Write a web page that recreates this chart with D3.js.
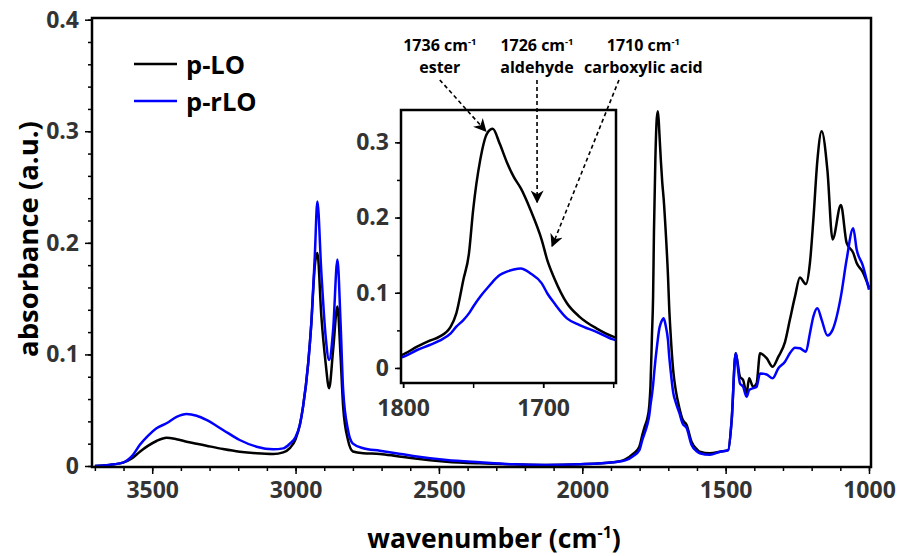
<!DOCTYPE html>
<html>
  <head>
    <meta charset="utf-8" />
    <title>FTIR p-LO / p-rLO</title>
    <style>
      body {
        margin: 0;
        background: #fff;
      }
      text {
        font-family: "Open Sans", sans-serif;
        font-weight: 700;
      }
    </style>
    <script src="https://d3js.org/d3.v7.min.js"></script>
  </head>
  <body>
    <div id="chart"></div>
    <script>
      // wavenumber (cm-1) shared by both spectra
      var wavenumbers = [3700, 3650, 3602, 3570, 3543, 3515, 3485, 3450, 3415, 3380, 3345, 3311, 3253, 3195, 3136, 3078, 3043, 3020, 3000, 2985, 2974, 2956, 2945, 2933, 2924, 2910, 2895, 2883, 2869, 2854, 2843, 2834, 2817, 2800, 2764, 2706, 2650, 2590, 2473, 2357, 2241, 2125, 2008, 1892, 1850, 1822, 1801, 1790, 1781, 1774, 1766, 1762, 1757, 1753, 1750, 1745, 1740, 1736, 1731, 1726, 1721, 1716, 1709, 1701, 1697, 1692, 1683, 1674, 1662, 1650, 1636, 1619, 1600, 1590, 1555, 1520, 1491, 1479, 1465, 1450, 1439, 1427, 1418, 1404, 1392, 1380, 1357, 1336, 1316, 1293, 1276, 1258, 1241, 1220, 1206, 1194, 1180, 1165, 1145, 1127, 1098, 1078, 1055, 1043, 1022, 1000];
      var pLO = [0.000, 0.001, 0.003, 0.007, 0.0128, 0.018, 0.0224, 0.0254, 0.024, 0.0218, 0.020, 0.0182, 0.0152, 0.0128, 0.0114, 0.0108, 0.0122, 0.016, 0.024, 0.037, 0.053, 0.092, 0.128, 0.179, 0.191, 0.134, 0.092, 0.0697, 0.104, 0.143, 0.098, 0.053, 0.023, 0.013, 0.0114, 0.0108, 0.009, 0.0069, 0.0039, 0.0024, 0.0015, 0.0009, 0.0015, 0.0033, 0.006, 0.011, 0.0173, 0.0283, 0.0363, 0.0416, 0.0549, 0.0726, 0.117, 0.152, 0.21, 0.276, 0.312, 0.318, 0.298, 0.274, 0.254, 0.239, 0.21, 0.17, 0.143, 0.119, 0.086, 0.068, 0.0527, 0.0416, 0.0368, 0.0218, 0.015, 0.0128, 0.0114, 0.0128, 0.0143, 0.041, 0.101, 0.080, 0.077, 0.065, 0.0786, 0.071, 0.074, 0.101, 0.0966, 0.089, 0.098, 0.111, 0.131, 0.152, 0.169, 0.163, 0.182, 0.221, 0.274, 0.300, 0.265, 0.203, 0.234, 0.200, 0.191, 0.182, 0.174, 0.160];
      var prLO = [0.000, 0.001, 0.003, 0.009, 0.019, 0.027, 0.0338, 0.0383, 0.044, 0.0466, 0.045, 0.0413, 0.0323, 0.0233, 0.0173, 0.015, 0.0158, 0.020, 0.026, 0.037, 0.053, 0.092, 0.128, 0.188, 0.237, 0.173, 0.116, 0.095, 0.122, 0.185, 0.128, 0.068, 0.032, 0.020, 0.0159, 0.0137, 0.0115, 0.009, 0.0054, 0.0033, 0.0015, 0.0009, 0.0015, 0.0033, 0.005, 0.009, 0.0142, 0.0239, 0.0305, 0.0363, 0.046, 0.0549, 0.0637, 0.0726, 0.0814, 0.0947, 0.106, 0.1146, 0.1235, 0.128, 0.131, 0.1324, 0.1257, 0.1125, 0.099, 0.086, 0.066, 0.057, 0.048, 0.038, 0.034, 0.019, 0.013, 0.0114, 0.010, 0.0128, 0.0143, 0.041, 0.101, 0.074, 0.071, 0.062, 0.068, 0.0697, 0.071, 0.083, 0.082, 0.0786, 0.0876, 0.0935, 0.101, 0.106, 0.1055, 0.1025, 0.119, 0.134, 0.1414, 0.131, 0.117, 0.122, 0.152, 0.185, 0.213, 0.194, 0.180, 0.158];

      var seriesNames = ["p-LO", "p-rLO"];
      var seriesColors = ["#000000", "#0000ff"];

      var xTicksMajor = [3500, 3000, 2500, 2000, 1500, 1000];
      var yTicksMajor = [0, 0.1, 0.2, 0.3, 0.4];
      var insetXTicks = [1800, 1700];
      var insetYTicks = [0, 0.1, 0.2, 0.3];

      // peak labels: text placed in main coords, arrow tip in inset coords
      var peakWn = ["1736", "1726", "1710"];
      var peakNames = ["ester", "aldehyde", "carboxylic acid"];
      var labelWn = [2497, 2158, 1787];
      var arrowStartWn = [2497, 2158, 1872];
      var arrowTipWn = [1741, 1704.3, 1693.6];
      var arrowTipAbs = [0.315, 0.2205, 0.162];

      var W = 898, H = 556;
      var svg = d3.select("#chart").append("svg").attr("width", W).attr("height", H);

      var x = d3.scaleLinear().domain([3710, 993]).range([92, 871]);
      var y = d3.scaleLinear().domain([-0.0009, 0.4015]).range([467, 18]);

      var spectra = [pLO, prLO].map(function (vals, k) {
        return { name: seriesNames[k], color: seriesColors[k], pts: wavenumbers.map(function (w, i) { return [w, vals[i]]; }) };
      });

      var tickColor = "#333";

      // main axes
      var xAxisMinor = d3.axisBottom(x).tickValues(d3.range(3700, 999, -100)).tickSize(4).tickFormat("");
      var xAxis = d3.axisBottom(x).tickValues(xTicksMajor).tickSize(7).tickPadding(8).tickFormat(d3.format("d"));
      var yAxisMinor = d3.axisLeft(y).tickValues(d3.range(0, 0.401, 0.02)).tickSize(4).tickFormat("");
      var yAxis = d3.axisLeft(y).tickValues(yTicksMajor).tickSize(7).tickPadding(6).tickFormat(function (d) { return d === 0 ? "0" : d3.format(".1f")(d); });

      function styleAxis(g) {
        g.select(".domain").remove();
        g.selectAll("line").attr("stroke", "#000").attr("stroke-width", 1.5);
        g.selectAll("text").attr("fill", tickColor).style("font-size", "23px").style("font-family", "Open Sans").style("font-weight", 700);
      }

      svg.append("g").attr("transform", "translate(0," + y.range()[0] + ")").call(xAxisMinor).call(styleAxis);
      svg.append("g").attr("transform", "translate(0," + y.range()[0] + ")").call(xAxis).call(styleAxis);
      svg.append("g").attr("transform", "translate(" + x.range()[0] + ",0)").call(yAxisMinor).call(styleAxis);
      svg.append("g").attr("transform", "translate(" + x.range()[0] + ",0)").call(yAxis).call(styleAxis);

      var line = d3.line().x(function (d) { return x(d[0]); }).y(function (d) { return y(d[1]); }).curve(d3.curveMonotoneX);

      svg.append("clipPath").attr("id", "mainclip").append("rect")
        .attr("x", x.range()[0]).attr("y", y.range()[1]).attr("width", x.range()[1] - x.range()[0]).attr("height", y.range()[0] - y.range()[1]);

      svg.append("g").attr("clip-path", "url(#mainclip)").selectAll("path").data(spectra).join("path")
        .attr("d", function (d) { return line(d.pts); })
        .attr("fill", "none").attr("stroke", function (d) { return d.color; }).attr("stroke-width", 2.5).attr("stroke-linejoin", "round");

      svg.append("rect").attr("x", x.range()[0]).attr("y", y.range()[1])
        .attr("width", x.range()[1] - x.range()[0]).attr("height", y.range()[0] - y.range()[1])
        .attr("fill", "none").attr("stroke", "#000").attr("stroke-width", 2.5);

      // axis titles
      var xt = svg.append("text").attr("x", 494).attr("y", 548).attr("text-anchor", "middle").style("font-size", "26.5px").attr("fill", "#000");
      xt.append("tspan").text("wavenumber (cm");
      xt.append("tspan").text("-1").style("font-size", "16px").attr("dy", -10);
      xt.append("tspan").text(")").attr("dy", 10);

      svg.append("text").attr("transform", "translate(38,239) rotate(-90)").attr("text-anchor", "middle")
        .style("font-size", "27.5px").attr("fill", "#000").text("absorbance (a.u.)");

      // legend
      var legend = svg.append("g");
      spectra.forEach(function (s, i) {
        var ly = 64 + i * 37;
        legend.append("line").attr("x1", 134).attr("x2", 177).attr("y1", ly).attr("y2", ly).attr("stroke", s.color).attr("stroke-width", 2.5);
        legend.append("text").attr("x", 186).attr("y", ly + 10).style("font-size", "25.5px").attr("fill", "#000").text(s.name);
      });

      // inset
      var xi = d3.scaleLinear().domain([1801.5, 1648]).range([401, 616]);
      var yi = d3.scaleLinear().domain([-0.02, 0.343]).range([383, 110]);

      svg.append("rect").attr("x", 401).attr("y", 110).attr("width", 215).attr("height", 273).attr("fill", "#fff");

      svg.append("clipPath").attr("id", "insetclip").append("rect")
        .attr("x", xi.range()[0]).attr("y", yi.range()[1]).attr("width", xi.range()[1] - xi.range()[0]).attr("height", yi.range()[0] - yi.range()[1]);

      var lineI = d3.line().x(function (d) { return xi(d[0]); }).y(function (d) { return yi(d[1]); }).curve(d3.curveMonotoneX);
      svg.append("g").attr("clip-path", "url(#insetclip)").selectAll("path").data(spectra).join("path")
        .attr("d", function (d) { return lineI(d.pts.filter(function (p) { return p[0] < 1830 && p[0] > 1620; })); })
        .attr("fill", "none").attr("stroke", function (d) { return d.color; }).attr("stroke-width", 2.5).attr("stroke-linejoin", "round");

      svg.append("g").attr("transform", "translate(0," + yi.range()[0] + ")")
        .call(d3.axisBottom(xi).tickValues([1800, 1750, 1700, 1650]).tickSize(5).tickFormat(""))
        .call(styleAxis);
      svg.append("g").attr("transform", "translate(0," + yi.range()[0] + ")")
        .call(d3.axisBottom(xi).tickValues(insetXTicks).tickSize(5).tickPadding(12).tickFormat(d3.format("d")))
        .call(styleAxis);
      svg.append("g").attr("transform", "translate(" + xi.range()[0] + ",0)")
        .call(d3.axisLeft(yi).tickValues([0, 0.05, 0.1, 0.15, 0.2, 0.25, 0.3]).tickSize(4).tickFormat(""))
        .call(styleAxis);
      svg.append("g").attr("transform", "translate(" + xi.range()[0] + ",0)")
        .call(d3.axisLeft(yi).tickValues(insetYTicks).tickSize(6).tickPadding(6).tickFormat(function (d) { return d === 0 ? "0" : d3.format(".1f")(d); }))
        .call(styleAxis);

      svg.append("rect").attr("x", 401).attr("y", 110).attr("width", 215).attr("height", 273)
        .attr("fill", "none").attr("stroke", "#000").attr("stroke-width", 2.5);

      // annotation arrows
      svg.append("defs").append("marker").attr("id", "arrowhead")
        .attr("viewBox", "0 0 10 10").attr("refX", 9).attr("refY", 5)
        .attr("markerWidth", 13).attr("markerHeight", 13).attr("markerUnits", "userSpaceOnUse")
        .attr("orient", "auto")
        .append("path").attr("d", "M0,0 L10,5 L0,10 L3,5 z").attr("fill", "#000");

      peakWn.forEach(function (p, i) {
        var tx = x(labelWn[i]);
        var t1 = svg.append("text").attr("x", tx).attr("y", y(0.372)).attr("text-anchor", "middle").style("font-size", "16px").attr("fill", "#000");
        t1.append("tspan").text(p + " cm");
        t1.append("tspan").text("-1").style("font-size", "9.5px").attr("dy", -6);
        svg.append("text").attr("x", tx).attr("y", y(0.3525)).attr("text-anchor", "middle").style("font-size", "16px").attr("fill", "#000").text(peakNames[i]);
        svg.append("line")
          .attr("x1", x(arrowStartWn[i])).attr("y1", y(0.346))
          .attr("x2", xi(arrowTipWn[i])).attr("y2", yi(arrowTipAbs[i]))
          .attr("stroke", "#000").attr("stroke-width", 1.6).attr("stroke-dasharray", "4,3")
          .attr("marker-end", "url(#arrowhead)");
      });
    </script>
  </body>
</html>
